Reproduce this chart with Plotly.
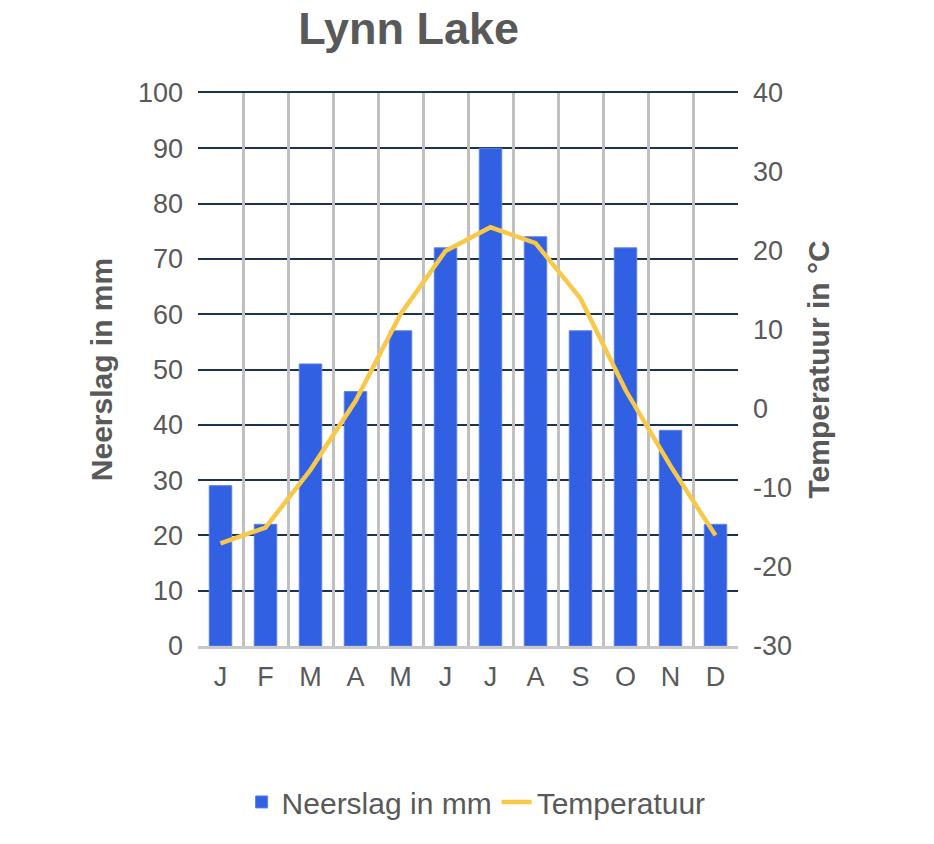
import plotly.graph_objects as go

months = ["J", "F", "M", "A", "M", "J", "J", "A", "S", "O", "N", "D"]
neerslag = [29, 22, 51, 46, 57, 72, 90, 74, 57, 72, 39, 22]
temperatuur = [-17, -15, -7.7, 1, 12, 20, 23, 21, 14, 2.4, -7.2, -16]
left_ticks = list(range(0, 101, 10))
right_ticks = list(range(-30, 41, 10))

idx = list(range(len(months)))
font_family = "Liberation Sans, Arial, sans-serif"
text_col = "#595959"
grid_dark = "#1b3350"

fig = go.Figure()
fig.add_trace(go.Bar(
    x=idx, y=neerslag, name="Neerslag in mm", width=0.5,
    marker=dict(color="#3160e2", line=dict(color="#5f80e6", width=1)),
    yaxis="y", xaxis="x",
))
fig.add_trace(go.Scatter(
    x=idx, y=temperatuur, name="Temperatuur", mode="lines",
    line=dict(color="#f8c84a", width=4.5),
    yaxis="y2", xaxis="x",
))
# dummy trace to activate xaxis2 (boundary gridlines + top line)
fig.add_trace(go.Scatter(x=[None], y=[None], xaxis="x2", yaxis="y",
                         showlegend=False, hoverinfo="skip"))

fig.update_layout(
    width=934, height=844,
    margin=dict(l=198, r=196, t=93, b=198),
    paper_bgcolor="white", plot_bgcolor="white",
    font=dict(family=font_family, color=text_col, size=26),
    title=dict(text="<b>Lynn Lake</b>", x=0.39, xref="paper", xanchor="center",
               y=1 - 28 / 844, yref="container", yanchor="middle",
               font=dict(size=45, color=text_col, family=font_family)),
    xaxis=dict(range=[-0.5, 11.5], tickvals=idx, ticktext=months, showgrid=False,
               zeroline=False, showline=True, linecolor="#c8c8c8", linewidth=3,
               ticks="", ticklabelstandoff=5, tickfont=dict(size=27, color=text_col)),
    xaxis2=dict(range=[-0.5, 11.5], overlaying="x", side="top",
                tickvals=[i + 0.5 for i in idx[:-1]],
                showticklabels=False, showgrid=True, gridcolor="#c0c0c0", gridwidth=2.5,
                zeroline=False, showline=True, linecolor=grid_dark, linewidth=2, ticks=""),
    yaxis=dict(range=[0, 100], tickvals=left_ticks, showgrid=True, gridcolor=grid_dark,
               gridwidth=2, zeroline=False, showline=False, ticks="", ticklabelstandoff=14,
               title=dict(text="<b>Neerslag in mm</b>", font=dict(size=30, color=text_col), standoff=16),
               tickfont=dict(size=27, color=text_col)),
    yaxis2=dict(range=[-30, 40], tickvals=right_ticks, ticktext=[str(v) for v in right_ticks],
                overlaying="y", side="right",
                showgrid=False, zeroline=False, showline=False, ticks="", ticklabelstandoff=14,
                title=dict(text="<b>Temperatuur in °C</b>", font=dict(size=30, color=text_col), standoff=16),
                tickfont=dict(size=27, color=text_col)),
    legend=dict(orientation="h", x=0.515, xanchor="center", y=-0.282, yanchor="middle",
                font=dict(size=30, color=text_col), itemwidth=30, traceorder="normal"),
)

fig.write_html("out.html")
